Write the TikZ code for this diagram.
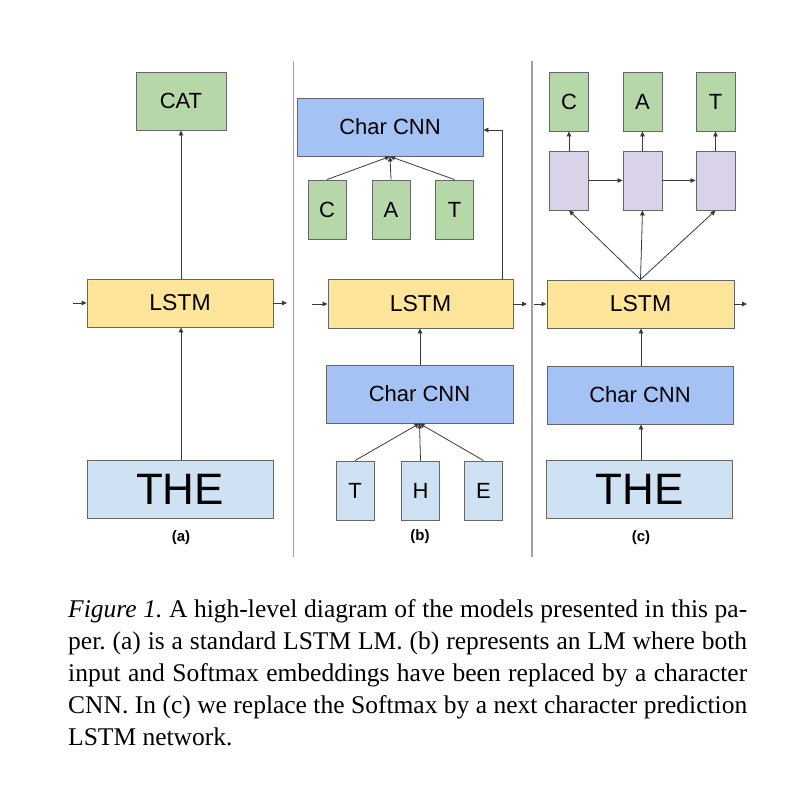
\documentclass[tikz,border=0pt]{standalone}
\usepackage{fontspec}
\setmainfont{Liberation Serif}
\newfontfamily\diagfont{Liberation Sans}
\usetikzlibrary{arrows.meta}
\definecolor{gfill}{HTML}{B6D7A8}
\definecolor{yfill}{HTML}{FFE599}
\definecolor{bfill}{HTML}{A4C2F4}
\definecolor{lbfill}{HTML}{CFE2F3}
\definecolor{pfill}{HTML}{D9D2E9}
\definecolor{edge}{HTML}{666666}
\definecolor{conn}{HTML}{3A3A3A}
\definecolor{divc}{HTML}{A0A0A0}
\tikzset{
  box/.style={draw=edge, line width=0.9pt, inner sep=0pt, font=\diagfont\fontsize{22}{26}\selectfont},
  green/.style={box, fill=gfill},
  yellow/.style={box, fill=yfill, minimum width=186pt, minimum height=48pt, font=\diagfont\fontsize{23}{26}\selectfont},
  cnn/.style={box, fill=bfill, minimum width=186pt, minimum height=58pt},
  thebig/.style={box, fill=lbfill, minimum width=186pt, minimum height=58pt, font=\diagfont\fontsize{44}{48}\selectfont},
  small/.style={minimum width=38pt, minimum height=59pt},
  lblue/.style={box, fill=lbfill, small},
  purp/.style={box, fill=pfill, small},
  gsmall/.style={green, small},
  conn/.style={draw=conn, line width=0.8pt, -{Triangle[length=5pt,width=4.5pt]}},
  divline/.style={draw=divc, line width=1.6pt},
  sublabel/.style={font=\diagfont\bfseries\fontsize{15}{18}\selectfont, inner sep=0pt}
}
\begin{document}
\frenchspacing
\begin{tikzpicture}[x=1pt,y=-1pt]
\useasboundingbox (0,0) rectangle (800,801);
\fill[white] (0,0) rectangle (800,801);
% dividers
\coordinate (d1t) at (293.5,61);
\coordinate (d1b) at (293.5,557);
\coordinate (d2t) at (532,61);
\coordinate (d2b) at (532,557);
\draw[divline] (d1t) -- (d1b);
\draw[divline] (d2t) -- (d2b);
% (a)
\node[green, minimum width=90pt, minimum height=58pt] (catA) at (181,101) {CAT};
\node[yellow] (lstmA) at (180,303) {LSTM};
\node[thebig] (theA) at (180,489) {THE};
\node[sublabel] (labA) at (181,538) {(a)};
\coordinate (inA) at (73,303);
\coordinate (outA) at (287,303);
\draw[conn] (lstmA.north -| catA) -- (catA.south);
\draw[conn] (theA.north -| catA) -- (lstmA.south -| catA);
\draw[conn] (inA) -- (lstmA.west);
\draw[conn] (lstmA.east) -- (outA);
% (b)
\node[cnn] (cnnTop) at (390,127) {Char CNN};
\node[gsmall] (cB) at (327,209.5) {C};
\node[gsmall] (aB) at (391,209.5) {A};
\node[gsmall] (tB) at (454.5,209.5) {T};
\node[yellow, minimum width=185pt, minimum height=49pt] (lstmB) at (420.5,303.5) {LSTM};
\node[cnn, minimum width=187pt] (cnnB) at (419.5,394) {Char CNN};
\node[lblue] (tT) at (355,490.5) {T};
\node[lblue] (hH) at (420.5,490.5) {H};
\node[lblue] (eE) at (483.5,490.5) {E};
\node[sublabel] (labB) at (420,537) {(b)};
\coordinate (inB) at (312,304);
\coordinate (outB) at (527,304);
\coordinate (upB) at (502,130);
\draw[conn] (inB) -- (lstmB.west |- inB);
\draw[conn] (lstmB.east |- outB) -- (outB);
\draw[conn] (cnnB.north -| 420,0) -- (lstmB.south -| 420,0);
\draw[conn] (tT.north) -- (cnnB.south);
\draw[conn] (hH.north) -- (cnnB.south);
\draw[conn] (eE.north) -- (cnnB.south);
\draw[conn] (cB.north) -- (cnnTop.south);
\draw[conn] (aB.north) -- (cnnTop.south);
\draw[conn] (tB.north) -- (cnnTop.south);
\draw[conn] (lstmB.north -| upB) -- (upB) -- (cnnTop.east |- upB);
% (c)
\node[gsmall, minimum width=39pt] (cC) at (569,101.5) {C};
\node[gsmall, minimum width=39pt] (aC) at (642.5,101.5) {A};
\node[gsmall, minimum width=39pt] (tC) at (715.5,101.5) {T};
\node[purp, minimum width=39pt] (p1) at (569,180.5) {};
\node[purp, minimum width=39pt] (p2) at (642.5,180.5) {};
\node[purp, minimum width=39pt] (p3) at (715.5,180.5) {};
\node[yellow, minimum width=187pt] (lstmC) at (640.5,304) {LSTM};
\node[cnn] (cnnC) at (640,395) {Char CNN};
\node[thebig] (theC) at (639.5,489.5) {THE};
\node[sublabel] (labC) at (641,538) {(c)};
\coordinate (inC) at (534,304);
\coordinate (outC) at (747,304);
\draw[conn] (inC) -- (lstmC.west);
\draw[conn] (lstmC.east) -- (outC);
\draw[conn] (theC.north -| 641,0) -- (cnnC.south -| 641,0);
\draw[conn] (cnnC.north -| 641,0) -- (lstmC.south -| 641,0);
\draw[conn] (lstmC.north) -- (p1.south);
\draw[conn] (lstmC.north) -- (p2.south);
\draw[conn] (lstmC.north) -- (p3.south);
\draw[conn] (p1.east) -- (p2.west);
\draw[conn] (p2.east) -- (p3.west);
\draw[conn] (p1.north) -- (cC.south);
\draw[conn] (p2.north) -- (aC.south);
\draw[conn] (p3.north) -- (tC.south);
% caption
\node[anchor=base west, inner sep=0pt, text width=679pt, align=justify,
      font=\fontsize{25.5}{32}\selectfont] (cap) at (68,617)
{\frenchspacing\emph{Figure 1.} A high-level diagram of the models presented in this pa-\linebreak
per. (a) is a standard LSTM LM. (b) represents an LM where both\linebreak
input and Softmax embeddings have been replaced by a character\linebreak
CNN. In (c) we replace the Softmax by a next character prediction\linebreak
LSTM network.};
\end{tikzpicture}
\end{document}
